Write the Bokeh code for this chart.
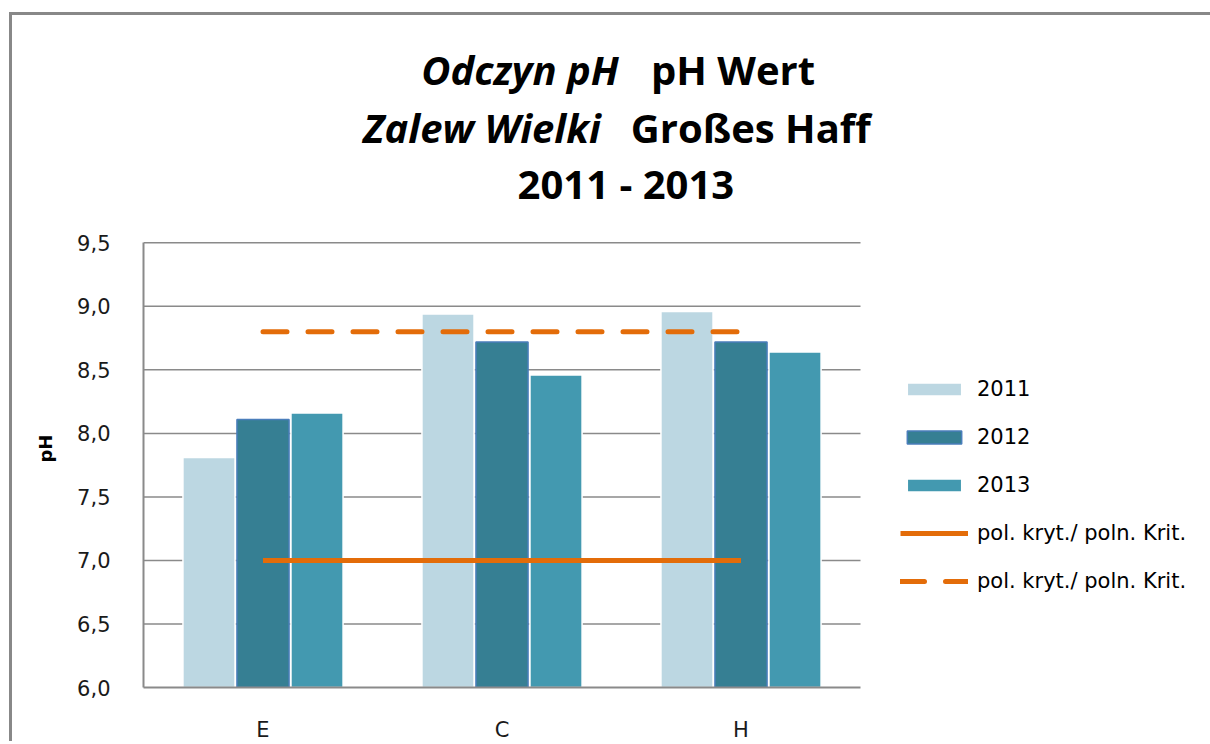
from bokeh.plotting import figure
from bokeh.models import (ColumnDataSource, Range1d, Legend, LegendItem,
                          Label, CustomJSTickFormatter, FixedTicker)
from bokeh.embed import file_html
from bokeh.resources import INLINE

# ---- data ----
stations = ["E", "C", "H"]
years = ["2011", "2012", "2013"]
ph_2011 = [7.81, 8.94, 8.96]
ph_2012 = [8.11, 8.72, 8.72]
ph_2013 = [8.16, 8.46, 8.64]
crit_low = 7.0
crit_high = 8.8
crit_label = "pol. kryt./ poln. Krit."
y_ticks = [6.0, 6.5, 7.0, 7.5, 8.0, 8.5, 9.0, 9.5]

colors = ["#BCD7E2", "#367F93", "#4399B0"]
orange = "#E36C09"
grid_col = "#8a8a8a"

# ---- layout (page pixels) ----
BORDER = 3
CANVAS_X0, CANVAS_Y0 = 12, 15          # canvas origin on page (after css margin + border)
W, H = 1201, 729                       # element size (border-box)
WC, HC = W - BORDER, H - BORDER        # canvas size
FRAME_L, FRAME_B = 143, 689            # page px
AX_R, AX_T = 858, 243                  # page px where x=3 and y=9.5 sit
ppx = (AX_R - FRAME_L) / len(stations)
ppy = (FRAME_B - AX_T) / (y_ticks[-1] - y_ticks[0])
x_end = (CANVAS_X0 + WC - FRAME_L) / ppx
y_end = y_ticks[-1] + (AX_T - CANVAS_Y0) / ppy

def px2x(px):
    return (px - FRAME_L) / ppx

def py2y(py):
    return y_ticks[-1] + (AX_T - py) / ppy

centers = [i + 0.5 for i in range(len(stations))]
src = ColumnDataSource(dict(
    x1=[c - 0.226 for c in centers], x2=centers, x3=[c + 0.226 for c in centers],
    y2011=ph_2011, y2012=ph_2012, y2013=ph_2013))

p = figure(width=W, height=H, output_backend="svg", toolbar_location=None,
           x_range=Range1d(0, x_end), y_range=Range1d(y_ticks[0], y_end),
           min_border_left=FRAME_L - CANVAS_X0, min_border_right=0, min_border_top=0,
           min_border_bottom=CANVAS_Y0 + HC - FRAME_B)
p.styles = {"margin-left": "9px", "margin-top": "12px",
            "border-left": "3px solid #888888", "border-top": "3px solid #888888"}
p.outline_line_color = None
p.background_fill_color = "white"
p.border_fill_color = "white"
p.xgrid.grid_line_color = None
p.ygrid.grid_line_color = None

# grid lines limited to the category area
p.segment(x0=0, x1=len(stations), y0=y_ticks[1:], y1=y_ticks[1:], line_color=grid_col, line_width=1.5)

bw = 0.218
r1 = p.vbar(x="x1", top="y2011", bottom=y_ticks[0], width=bw, source=src,
            fill_color=colors[0], line_color="white", line_width=1.5)
r2 = p.vbar(x="x2", top="y2012", bottom=y_ticks[0], width=bw, source=src,
            fill_color=colors[1], line_color="#4A7EBB", line_width=1.5)
r3 = p.vbar(x="x3", top="y2013", bottom=y_ticks[0], width=bw, source=src,
            fill_color=colors[2], line_color="white", line_width=1.5)

l1 = p.line(x=[centers[0], centers[-1]], y=[crit_low, crit_low], line_color=orange, line_width=5)
l2 = p.line(x=[centers[0], centers[-1]], y=[crit_high, crit_high], line_color=orange, line_width=5,
            line_dash="24 21", line_cap="round")

# axes
p.yaxis.ticker = FixedTicker(ticks=y_ticks)
p.yaxis.formatter = CustomJSTickFormatter(code="return tick.toFixed(1).replace('.', ',');")
p.xaxis.ticker = FixedTicker(ticks=centers)
p.xaxis.formatter = CustomJSTickFormatter(args=dict(names=stations),
                                          code="return names[Math.round(tick - 0.5)];")
p.yaxis.bounds = (y_ticks[0], y_ticks[-1])
p.xaxis.bounds = (0, len(stations))
for ax in (p.xaxis, p.yaxis):
    ax.major_tick_line_color = None
    ax.minor_tick_line_color = None
    ax.axis_line_color = grid_col
    ax.axis_line_width = 2
    ax.major_label_text_font = "DejaVu Sans"
    ax.major_label_text_font_size = "21px"
    ax.major_label_text_color = "#1a1a1a"
p.yaxis.major_label_standoff = 27
p.xaxis.major_label_standoff = 24
# axis label: trailing no-break spaces move "pH" down to the middle of the value axis
p.yaxis.axis_label = "pH" + "\u00a0" * 31
p.yaxis.axis_label_text_font = "DejaVu Sans"
p.yaxis.axis_label_text_font_size = "18px"
p.yaxis.axis_label_text_font_style = "bold"
p.yaxis.axis_label_text_color = "black"
p.yaxis.axis_label_standoff = 18

# legend (inside the wide frame, to the right of the bars)
legend = Legend(items=[
    LegendItem(label=years[0], renderers=[r1]),
    LegendItem(label=years[1], renderers=[r2]),
    LegendItem(label=years[2], renderers=[r3]),
    LegendItem(label=crit_label, renderers=[l1]),
    LegendItem(label=crit_label, renderers=[l2]),
], location=(900 - FRAME_L, FRAME_B - 595), glyph_width=68, glyph_height=16, label_standoff=9,
    label_text_font="DejaVu Sans", label_text_font_size="21px", label_text_color="black",
    spacing=24, padding=0, margin=0, border_line_color=None, background_fill_alpha=0)
p.add_layout(legend)

# title (three lines, mixed styles)
tfont = "Open Sans"
tsize = "40px"
shift = 16
title_parts = [
    ("Odczyn pH", px2x(617), py2y(85 - shift), "right", "bold italic"),
    ("pH Wert", px2x(649), py2y(85 - shift), "left", "bold"),
    ("Zalew Wielki", px2x(599), py2y(143 - shift), "right", "bold italic"),
    ("Großes Haff", px2x(629), py2y(143 - shift), "left", "bold"),
    ("2011 - 2013", px2x(624), py2y(200 - shift), "center", "bold"),
]
for txt, x, y, align, style in title_parts:
    p.add_layout(Label(x=x, y=y, text=txt, text_font=tfont, text_font_size=tsize,
                       text_font_style=style, text_align=align, text_baseline="alphabetic",
                       text_color="black"))

open("out.html", "w").write(file_html(p, INLINE))
